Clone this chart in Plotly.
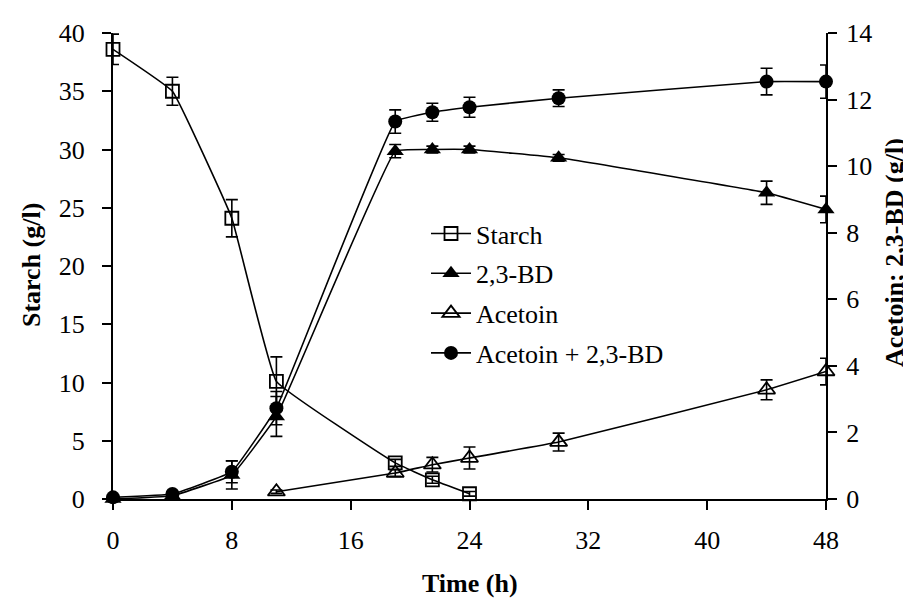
import plotly.graph_objects as go

# ---- data ----
time_starch = [0, 4, 8, 11, 19, 21.5, 24]
starch = [38.6, 35.0, 24.1, 10.1, 3.1, 1.65, 0.45]
starch_err = [1.3, 1.2, 1.6, 2.1, 0.3, 0.3, 0.2]

time_bd = [0, 4, 8, 11, 19, 21.5, 24, 30, 44, 48]
bd = [0.0, 0.1, 0.72, 2.48, 10.45, 10.5, 10.5, 10.25, 9.2, 8.7]
bd_err = [0.02, 0.05, 0.42, 0.6, 0.2, 0.1, 0.1, 0.1, 0.35, 0.4]

time_ac = [11, 19, 21.5, 24, 30, 44, 48]
acetoin = [0.22, 0.78, 1.03, 1.23, 1.71, 3.28, 3.83]
ac_err = [0.05, 0.1, 0.22, 0.33, 0.27, 0.3, 0.4]

time_sum = [0, 4, 8, 11, 19, 21.5, 24, 30, 44, 48]
total = [0.05, 0.15, 0.82, 2.73, 11.34, 11.62, 11.77, 12.04, 12.54, 12.54]
total_err = [0.02, 0.05, 0.33, 0.5, 0.35, 0.27, 0.3, 0.25, 0.4, 0.5]

x_ticks = [0, 8, 16, 24, 32, 40, 48]
y_ticks = [0, 5, 10, 15, 20, 25, 30, 35, 40]
y2_ticks = [0, 2, 4, 6, 8, 10, 12, 14]

FONT = "Liberation Serif, Times New Roman, serif"
FS = 26
BLACK = "black"
LW = 1.6


def err(vals):
    return dict(type="data", array=vals, visible=True, color=BLACK, thickness=1.6, width=6)


line = dict(color=BLACK, width=LW, shape="spline", smoothing=0.25)

fig = go.Figure()
fig.add_trace(go.Scatter(
    x=time_starch, y=starch, name="Starch", mode="lines+markers",
    line=line, error_y=err(starch_err), cliponaxis=False, legendgroup="a",
    marker=dict(symbol="square-open", size=13, color=BLACK, line=dict(width=1.8, color=BLACK)),
))
fig.add_trace(go.Scatter(
    x=time_bd, y=bd, name="2,3-BD", mode="lines+markers", yaxis="y2",
    line=line, error_y=err(bd_err), cliponaxis=False, legendgroup="b",
    marker=dict(symbol="triangle-up", size=15, color=BLACK),
))
fig.add_trace(go.Scatter(
    x=time_ac, y=acetoin, name="Acetoin", mode="lines+markers", yaxis="y2",
    line=line, error_y=err(ac_err), cliponaxis=False, legendgroup="c",
    marker=dict(symbol="triangle-up-open", size=15, color=BLACK, line=dict(width=1.8, color=BLACK)),
))
fig.add_trace(go.Scatter(
    x=time_sum, y=total, name="Acetoin + 2,3-BD", mode="lines+markers", yaxis="y2",
    line=line, error_y=err(total_err), cliponaxis=False, legendgroup="d",
    marker=dict(symbol="circle", size=14, color=BLACK),
))

axis_common = dict(
    showline=True, linecolor=BLACK, linewidth=2, ticks="outside", tickcolor=BLACK,
    tickwidth=2, ticklen=9, showgrid=False, zeroline=False,
    tickfont=dict(family=FONT, size=FS, color=BLACK),
)

fig.update_layout(
    width=911, height=600,
    margin=dict(l=105, r=93, t=25, b=109),
    paper_bgcolor="white", plot_bgcolor="white",
    font=dict(family=FONT, size=FS, color=BLACK),
    xaxis=dict(range=[0, 48], tickvals=x_ticks, ticklabelstandoff=8, **axis_common),
    yaxis=dict(range=[0, 40], tickvals=y_ticks, ticklabelstandoff=12, **axis_common),
    yaxis2=dict(range=[0, 14], tickvals=y2_ticks, overlaying="y", side="right",
                ticklabelstandoff=4, **axis_common),
    showlegend=True,
    legend=dict(x=0.439, y=0.62, xanchor="left", yanchor="top", bgcolor="rgba(0,0,0,0)",
                font=dict(family=FONT, size=FS, color=BLACK), tracegroupgap=3,
                itemwidth=40),
    annotations=[
        dict(text="<b>Starch (g/l)</b>", xref="paper", yref="paper", x=-0.115, y=0.502,
             textangle=-90, showarrow=False, xanchor="center", yanchor="middle",
             font=dict(family=FONT, size=FS, color=BLACK)),
        dict(text="<b>Acetoin; 2,3-BD (g/l)</b>", xref="paper", yref="paper", x=1.097, y=0.528,
             textangle=-90, showarrow=False, xanchor="center", yanchor="middle",
             font=dict(family=FONT, size=FS, color=BLACK)),
        dict(text="<b>Time (h)</b>", xref="paper", yref="paper", x=0.5, y=-0.182,
             showarrow=False, xanchor="center", yanchor="middle",
             font=dict(family=FONT, size=FS, color=BLACK)),
    ],
)

fig.write_html("out.html")
